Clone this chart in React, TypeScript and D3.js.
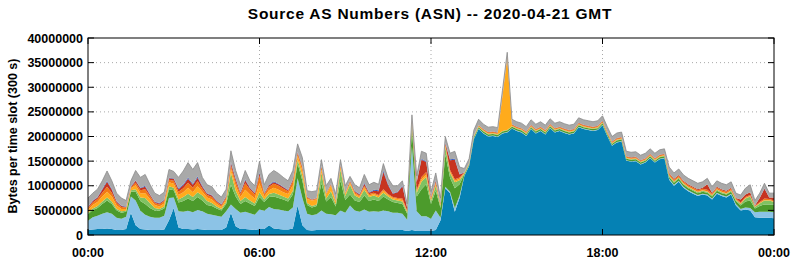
import React from 'react';
import * as d3 from 'd3';

const width = 795;
const height = 260;
const left = 88;
const right = 774;
const top = 38;
const bottom = 235;

// bytes per slot in millions, one sample every 10 minutes (00:00 .. 24:00)
const darkBlue = [
  1.0, 1.1, 1.2, 1.2, 1.3, 1.2, 1.0, 1.0, 1.2, 4.5,
  2.0, 1.2, 1.1, 1.0, 1.0, 1.0, 1.1, 3.0, 5.5, 1.5,
  1.2, 1.2, 1.1, 1.2, 1.1, 1.0, 1.0, 1.0, 1.0, 1.5,
  4.5, 1.8, 1.2, 1.2, 1.1, 1.0, 1.2, 1.2, 2.0, 1.3,
  1.2, 1.1, 1.1, 1.3, 6.0, 2.0, 1.0, 0.9, 1.0, 1.0,
  1.0, 1.0, 1.0, 1.0, 1.0, 1.0, 1.0, 1.0, 1.2, 1.0,
  1.0, 1.0, 1.0, 1.0, 1.0, 1.0, 1.0, 0.8, 1.0, 0.8,
  0.8, 0.8, 0.8, 1.0, 3.0, 9.5, 8.5, 4.7, 7.5, 12.0,
  14.0, 19.5, 21.5, 20.6, 20.0, 20.1, 19.9, 20.6, 20.8, 21.6,
  21.1, 20.8, 20.1, 21.5, 20.6, 21.1, 20.4, 21.7, 20.8, 21.1,
  20.7, 20.4, 20.6, 21.9, 21.5, 21.3, 21.1, 21.3, 22.3, 20.1,
  18.1, 18.8, 19.0, 15.1, 14.9, 15.0, 14.3, 14.7, 15.6, 14.7,
  15.4, 15.6, 11.2, 10.0, 10.8, 9.6, 8.9, 8.4, 7.9, 8.2,
  8.0, 7.2, 8.4, 7.9, 7.6, 8.2, 6.0, 5.0, 5.2, 5.0,
  3.6, 3.5, 3.5, 3.5, 3.4,
];
const lightBlue = [
  1.9, 2.5, 2.7, 3.1, 3.3, 3.1, 2.5, 2.3, 2.5, 3.3,
  5.0, 3.7, 3.0, 2.7, 2.5, 2.5, 2.8, 4.5, 2.1, 3.3,
  3.5, 3.7, 3.5, 3.9, 3.7, 3.3, 3.1, 2.9, 2.7, 3.3,
  1.7, 3.5, 3.3, 3.5, 3.3, 3.1, 4.0, 3.7, 3.7, 4.0,
  4.0, 3.9, 3.7, 4.3, 5.5, 5.5, 3.3, 3.1, 3.2, 4.0,
  3.3, 3.2, 3.0, 4.0, 3.5, 5.0, 4.0, 3.7, 4.0, 3.7,
  3.8, 3.7, 4.0, 3.8, 3.5, 3.5, 3.3, 2.3, 17.0, 4.0,
  3.0, 3.0, 2.5, 4.0, 0.5, 0.3, 0.3, 0.8, 0.5, 0.1,
  0.1, 0.1, 0.1, 0.1, 0.1, 0.1, 0.1, 0.1, 0.1, 0.1,
  0.1, 0.1, 0.1, 0.1, 0.1, 0.1, 0.1, 0.1, 0.1, 0.1,
  0.1, 0.1, 0.1, 0.1, 0.1, 0.1, 0.1, 0.1, 0.1, 0.1,
  0.1, 0.1, 0.1, 0.1, 0.1, 0.1, 0.1, 0.1, 0.1, 0.1,
  0.1, 0.1, 0.2, 0.2, 0.2, 0.2, 0.2, 0.2, 0.2, 0.2,
  0.2, 0.2, 0.2, 0.2, 0.2, 0.2, 0.3, 0.3, 0.4, 0.5,
  1.0, 1.2, 1.2, 1.2, 1.2,
];
const darkGreen = [
  1.3, 1.5, 1.6, 2.0, 2.4, 2.0, 1.5, 1.2, 1.0, 1.0,
  1.8, 2.0, 2.2, 1.8, 1.5, 1.4, 1.5, 1.8, 1.5, 1.8,
  2.2, 2.5, 2.3, 2.6, 2.2, 1.8, 1.8, 1.5, 1.3, 1.5,
  4.0, 2.5, 1.8, 2.2, 2.0, 1.8, 2.5, 1.8, 2.0, 2.5,
  2.3, 2.2, 2.0, 2.6, 3.0, 3.5, 1.8, 1.6, 1.7, 5.5,
  2.5, 3.5, 1.8, 6.0, 2.6, 2.2, 2.0, 2.0, 2.8, 2.2,
  2.4, 2.2, 2.8, 2.4, 2.2, 2.0, 2.0, 1.2, 3.5, 3.0,
  5.5, 6.5, 3.0, 4.0, 2.0, 6.5, 2.8, 4.0, 2.3, 0.3,
  0.2, 0.3, 0.3, 0.3, 0.3, 0.3, 0.3, 0.3, 0.3, 0.3,
  0.3, 0.3, 0.3, 0.3, 0.3, 0.3, 0.3, 0.3, 0.3, 0.3,
  0.3, 0.3, 0.3, 0.3, 0.3, 0.3, 0.3, 0.3, 0.3, 0.3,
  0.3, 0.3, 0.3, 0.3, 0.3, 0.3, 0.3, 0.3, 0.3, 0.3,
  0.3, 0.3, 0.4, 0.4, 0.4, 0.4, 0.4, 0.4, 0.4, 0.4,
  0.4, 0.4, 0.4, 0.4, 0.4, 0.4, 0.6, 0.7, 1.2, 1.5,
  0.8, 1.2, 1.5, 1.5, 1.6,
];
const lightGreen = [
  0.3, 0.3, 0.4, 0.5, 0.6, 0.5, 0.3, 0.3, 0.2, 0.3,
  0.5, 0.7, 1.2, 1.0, 0.5, 0.4, 0.4, 0.6, 0.5, 0.6,
  0.8, 1.0, 0.8, 1.0, 1.0, 0.8, 0.6, 0.4, 0.3, 0.4,
  2.5, 1.2, 0.6, 0.8, 0.6, 0.5, 1.0, 0.5, 0.6, 0.8,
  0.7, 0.6, 0.6, 0.8, 0.8, 1.0, 0.4, 0.3, 0.3, 2.2,
  0.6, 1.2, 0.4, 2.3, 0.8, 2.0, 1.0, 0.8, 1.2, 0.8,
  0.8, 0.7, 0.8, 0.6, 0.5, 0.5, 0.5, 0.3, 1.0, 0.8,
  1.5, 1.5, 0.6, 1.0, 0.4, 1.5, 1.0, 1.2, 0.8, 0.1,
  0.1, 0.1, 0.1, 0.1, 0.1, 0.1, 0.1, 0.1, 0.1, 0.1,
  0.1, 0.1, 0.1, 0.1, 0.1, 0.1, 0.1, 0.1, 0.1, 0.1,
  0.1, 0.1, 0.1, 0.1, 0.1, 0.1, 0.1, 0.1, 0.1, 0.1,
  0.1, 0.1, 0.1, 0.1, 0.1, 0.1, 0.1, 0.1, 0.1, 0.1,
  0.1, 0.1, 0.2, 0.2, 0.2, 0.2, 0.2, 0.2, 0.2, 0.2,
  0.2, 0.2, 0.2, 0.2, 0.2, 0.2, 0.2, 0.3, 0.6, 0.8,
  0.3, 0.5, 0.8, 0.8, 0.5,
];
const gold = [
  0.6, 0.7, 0.8, 1.0, 1.2, 1.0, 0.7, 0.5, 0.4, 0.4,
  0.8, 0.9, 1.0, 0.8, 0.6, 0.5, 0.6, 0.8, 0.8, 0.9,
  1.0, 1.2, 1.0, 1.2, 0.8, 0.7, 0.7, 0.5, 0.4, 0.5,
  0.8, 1.0, 0.8, 1.5, 1.2, 1.0, 1.8, 0.6, 0.8, 1.0,
  1.0, 0.9, 0.9, 1.1, 0.8, 1.0, 0.8, 1.1, 1.0, 0.6,
  0.8, 1.2, 0.5, 0.5, 0.4, 0.4, 0.4, 0.3, 0.5, 0.3,
  0.3, 0.3, 0.4, 0.3, 0.3, 0.3, 0.3, 0.2, 0.3, 0.3,
  0.5, 0.5, 0.3, 0.4, 0.2, 0.4, 0.3, 0.3, 0.3, 0.1,
  0.1, 0.1, 0.1, 0.1, 0.1, 0.1, 0.1, 7.0, 14.5, 0.1,
  0.1, 0.1, 0.1, 0.1, 0.1, 0.1, 0.1, 0.1, 0.1, 0.1,
  0.1, 0.1, 0.1, 0.1, 0.1, 0.1, 0.1, 0.1, 0.1, 0.1,
  0.1, 0.1, 0.1, 0.1, 0.1, 0.1, 0.1, 0.1, 0.1, 0.1,
  0.1, 0.1, 0.1, 0.1, 0.1, 0.1, 0.1, 0.1, 0.1, 0.1,
  0.1, 0.1, 0.1, 0.1, 0.1, 0.1, 0.1, 0.1, 0.1, 0.1,
  0.1, 0.1, 0.1, 0.1, 0.1,
];
const orange = [
  0.4, 0.5, 0.6, 0.8, 1.0, 0.8, 0.5, 0.4, 0.3, 0.2,
  0.5, 0.6, 0.8, 0.6, 0.4, 0.4, 0.5, 0.5, 0.6, 0.7,
  0.8, 1.0, 0.9, 1.0, 0.6, 0.5, 0.5, 0.4, 0.3, 0.4,
  0.6, 0.8, 0.6, 1.3, 1.0, 0.8, 1.5, 0.5, 0.7, 0.8,
  0.8, 0.7, 0.6, 0.8, 0.5, 0.6, 0.3, 0.1, 0.2, 0.6,
  0.2, 0.2, 0.2, 0.3, 0.2, 0.3, 0.3, 0.2, 0.3, 0.3,
  0.3, 0.2, 0.3, 0.2, 0.2, 0.2, 0.3, 0.2, 0.3, 0.3,
  0.5, 0.5, 0.3, 0.3, 0.2, 0.3, 0.3, 0.3, 0.3, 0.1,
  0.1, 0.1, 0.2, 0.2, 0.2, 0.2, 0.2, 0.2, 0.2, 0.2,
  0.2, 0.2, 0.2, 0.2, 0.2, 0.2, 0.2, 0.2, 0.2, 0.2,
  0.2, 0.2, 0.2, 0.2, 0.2, 0.2, 0.2, 0.2, 0.2, 0.2,
  0.2, 0.2, 0.2, 0.2, 0.2, 0.2, 0.2, 0.2, 0.2, 0.2,
  0.2, 0.2, 0.3, 0.3, 0.3, 0.3, 0.3, 0.3, 0.3, 0.3,
  0.3, 0.3, 0.3, 0.3, 0.3, 0.3, 0.2, 0.2, 0.2, 0.2,
  0.1, 0.2, 0.3, 0.2, 0.2,
];
const red = [
  0.2, 0.3, 0.3, 0.6, 1.0, 0.6, 0.3, 0.2, 0.1, 0.1,
  0.4, 0.4, 0.5, 0.3, 0.2, 0.2, 0.2, 0.3, 0.4, 0.5,
  0.6, 0.8, 0.6, 0.7, 0.4, 0.3, 0.3, 0.2, 0.2, 0.2,
  0.5, 0.5, 0.3, 0.6, 0.3, 0.3, 0.5, 0.2, 0.3, 0.3,
  0.3, 0.3, 0.2, 0.3, 0.2, 0.2, 0.1, 0.1, 0.1, 0.1,
  0.1, 0.1, 0.1, 0.1, 0.1, 0.1, 0.2, 0.2, 0.4, 0.3,
  0.4, 0.8, 3.5, 1.8, 0.7, 1.2, 2.5, 0.5, 0.2, 1.5,
  3.5, 2.0, 0.2, 0.3, 0.1, 0.2, 2.0, 4.0, 0.6, 0.0,
  0.0, 0.0, 0.0, 0.1, 0.1, 0.1, 0.1, 0.1, 0.1, 0.1,
  0.1, 0.1, 0.1, 0.1, 0.1, 0.1, 0.1, 0.1, 0.1, 0.1,
  0.1, 0.1, 0.1, 0.1, 0.1, 0.1, 0.1, 0.1, 0.1, 0.1,
  0.1, 0.1, 0.1, 0.1, 0.1, 0.1, 0.1, 0.1, 0.1, 0.1,
  0.1, 0.1, 0.2, 0.2, 0.2, 0.2, 0.2, 0.2, 0.2, 0.2,
  1.1, 0.2, 0.2, 0.2, 0.2, 0.2, 0.1, 0.6, 0.5, 0.6,
  0.1, 0.8, 2.0, 0.3, 0.6,
];
const blue = [
  0.1, 0.1, 0.1, 0.2, 0.2, 0.2, 0.1, 0.1, 0.1, 0.1,
  0.1, 0.1, 0.2, 0.1, 0.1, 0.1, 0.1, 0.1, 0.1, 0.2,
  0.2, 0.3, 0.2, 0.3, 0.2, 0.1, 0.1, 0.1, 0.1, 0.1,
  0.2, 0.2, 0.1, 0.2, 0.1, 0.1, 0.2, 0.1, 0.1, 0.2,
  0.1, 0.1, 0.1, 0.1, 0.1, 0.1, 0.1, 0.0, 0.0, 0.1,
  0.0, 0.1, 0.0, 0.1, 0.0, 0.1, 0.1, 0.1, 0.2, 0.1,
  0.2, 0.2, 0.3, 0.2, 0.1, 0.1, 0.2, 0.1, 0.1, 0.1,
  0.2, 0.2, 0.1, 0.1, 0.1, 0.1, 0.2, 0.2, 0.1, 0.0,
  0.0, 0.0, 0.0, 0.0, 0.0, 0.0, 0.0, 0.0, 0.0, 0.0,
  0.0, 0.0, 0.0, 0.0, 0.0, 0.0, 0.0, 0.0, 0.0, 0.0,
  0.0, 0.0, 0.0, 0.0, 0.0, 0.0, 0.0, 0.0, 0.0, 0.0,
  0.0, 0.0, 0.0, 0.0, 0.0, 0.0, 0.0, 0.0, 0.0, 0.0,
  0.0, 0.0, 0.0, 0.0, 0.0, 0.0, 0.0, 0.0, 0.0, 0.0,
  0.0, 0.0, 0.0, 0.0, 0.0, 0.0, 0.0, 0.0, 0.0, 0.0,
  0.0, 0.0, 0.1, 0.0, 0.0,
];
const other = [
  1.7, 1.5, 1.6, 1.6, 2.0, 1.6, 1.6, 1.5, 1.2, 1.1,
  2.0, 2.1, 2.3, 2.0, 1.7, 1.5, 1.5, 1.7, 1.4, 2.2,
  2.7, 3.0, 2.9, 2.8, 1.7, 1.7, 1.7, 1.5, 1.4, 1.4,
  2.3, 1.6, 1.5, 1.8, 1.4, 1.4, 2.3, 1.6, 2.1, 2.2,
  2.1, 1.9, 1.8, 1.8, 1.6, 1.8, 1.2, 1.6, 1.5, 1.2,
  1.5, 1.0, 1.3, 1.0, 1.4, 0.8, 1.2, 1.3, 1.7, 1.5,
  1.5, 1.2, 1.4, 1.2, 1.5, 1.2, 0.9, 0.7, 1.0, 1.2,
  1.5, 1.6, 1.0, 1.5, 1.0, 1.2, 1.2, 1.5, 1.4, 0.8,
  0.9, 1.1, 1.2, 1.0, 1.0, 1.0, 1.0, 1.0, 1.0, 1.0,
  1.0, 1.0, 1.0, 1.0, 1.0, 1.0, 1.0, 1.0, 1.0, 1.0,
  1.0, 1.0, 1.0, 1.0, 1.0, 1.0, 1.0, 1.0, 1.0, 1.0,
  1.0, 1.0, 1.0, 1.0, 1.0, 1.0, 1.0, 1.0, 1.0, 1.0,
  1.0, 1.0, 1.2, 1.2, 1.2, 1.2, 1.2, 1.2, 1.2, 1.2,
  1.2, 1.2, 1.2, 1.2, 1.2, 1.2, 1.0, 0.9, 1.3, 1.5,
  1.0, 1.0, 1.0, 0.9, 0.9,
];

const series = [darkBlue, lightBlue, darkGreen, lightGreen, gold, orange, red, blue, other];
const colors = ['#0581b4', '#8cc3e6', '#4c9b2c', '#7fc262', '#ffab1c', '#f37a12', '#c7341f', '#3a5dbf', '#a9a9a9'];

const yTicks = [0, 5000000, 10000000, 15000000, 20000000, 25000000, 30000000, 35000000, 40000000];
const xTickMinutes = [0, 360, 720, 1080, 1440];
const xTickLabels = ['00:00', '06:00', '12:00', '18:00', '00:00'];

const font = '"Liberation Sans", Arial, Helvetica, sans-serif';

export default function App() {
  const x = d3.scaleLinear().domain([0, 1440]).range([left, right]);
  const y = d3.scaleLinear().domain([0, 40000000]).range([bottom, top]);

  const keys = series.map((_, k) => 'k' + k);
  const rows = darkBlue.map((_, i) => {
    const r: any = { t: i * 10 };
    series.forEach((s, k) => { r['k' + k] = s[i] * 1e6; });
    return r;
  });
  const stacked = d3.stack().keys(keys)(rows);

  const area = d3.area<any>()
    .x((d) => x(d.data.t))
    .y0((d) => y(d[0]))
    .y1((d) => y(d[1]));
  const topLine = d3.line<any>()
    .x((d) => x(d.data.t))
    .y((d) => y(d[1]));

  return (
    <svg width={width} height={height} style={{ position: 'absolute', left: 0, top: 0, background: '#fff' }}
      fontFamily={font} fontWeight="bold">
      <text x={430} y={19} textAnchor="middle" fontSize={15.5} letterSpacing={0.75}>Source AS Numbers (ASN) -- 2020-04-21 GMT</text>

      {yTicks.slice(1, -1).map((v) => (
        <line key={'gy' + v} x1={left} x2={right} y1={y(v)} y2={y(v)} stroke="#a8a8a8" strokeWidth={1} strokeDasharray="1,3" />
      ))}
      {xTickMinutes.slice(1, -1).map((m) => (
        <line key={'gx' + m} x1={x(m)} x2={x(m)} y1={top} y2={bottom} stroke="#a8a8a8" strokeWidth={1} strokeDasharray="1,3" />
      ))}

      {stacked.map((s, k) => (
        <path key={'a' + k} d={area(s) || ''} fill={colors[k]} />
      ))}
      <path d={topLine(stacked[stacked.length - 1]) || ''} fill="none" stroke="#8a8a8a" strokeWidth={0.8} />

      <rect x={left} y={top} width={right - left} height={bottom - top} fill="none" stroke="#000" strokeWidth={1} />

      {yTicks.map((v) => (
        <g key={'ty' + v}>
          <line x1={left} x2={left + 6} y1={y(v)} y2={y(v)} stroke="#000" />
          <line x1={right - 6} x2={right} y1={y(v)} y2={y(v)} stroke="#000" />
          <text x={left - 5} y={y(v) + 4.5} textAnchor="end" fontSize={12.5}>{v}</text>
        </g>
      ))}
      {xTickMinutes.map((m, i) => (
        <g key={'tx' + i}>
          <line x1={x(m)} x2={x(m)} y1={top} y2={top + 6} stroke="#000" />
          <line x1={x(m)} x2={x(m)} y1={bottom - 6} y2={bottom} stroke="#000" />
          <text x={x(m)} y={257} textAnchor="middle" fontSize={12.5}>{xTickLabels[i]}</text>
        </g>
      ))}

      <text transform={`translate(17,136) rotate(-90)`} textAnchor="middle" fontSize={12.5}>Bytes per time slot (300 s)</text>
    </svg>
  );
}
